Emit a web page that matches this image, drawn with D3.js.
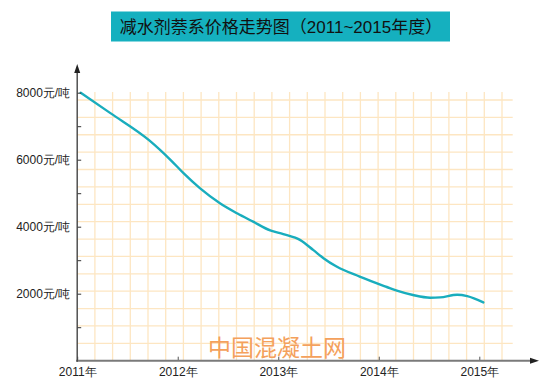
<!DOCTYPE html>
<html>
<head>
<meta charset="utf-8">
<script src="https://cdn.jsdelivr.net/npm/d3@7/dist/d3.min.js"></script>
<style>
  html, body { margin: 0; padding: 0; background: #fff; }
  svg { display: block; font-family: "Liberation Sans", Arial, "Noto Sans CJK SC", sans-serif; }
</style>
</head>
<body>
<svg id="chart" width="555" height="390"></svg>
<script>
// ---- data ----
const title = "减水剂萘系价格走势图（2011~2015年度）";
const watermark = "中国混凝土网";
const years = [2011.035, 2011.33, 2011.72, 2011.93, 2012.06, 2012.22, 2012.42, 2012.59, 2012.75, 2012.92, 2013.05, 2013.22, 2013.35, 2013.45, 2013.58, 2013.81, 2014.08, 2014.18, 2014.34, 2014.51, 2014.61, 2014.78, 2014.88, 2015.04];
const prices = [8000, 7390, 6570, 5990, 5590, 5150, 4700, 4400, 4150, 3890, 3780, 3600, 3300, 3060, 2810, 2510, 2200, 2090, 1960, 1880, 1890, 1970, 1930, 1740];
const xTicks = [2011, 2012, 2013, 2014, 2015];
const xTickLabels = ["2011年", "2012年", "2013年", "2014年", "2015年"];
const yTicks = [1000, 2000, 3000, 4000, 5000, 6000, 7000, 8000];
const yTickLabels = ["", "2000元/吨", "", "4000元/吨", "", "6000元/吨", "", "8000元/吨"];

const svg = d3.select("#chart");
const x0 = 77.2, yBase = 360.7;
const x = d3.scaleLinear().domain([2011, 2015]).range([x0, 479.3]);
const y = d3.scaleLinear().domain([0, 8000]).range([yBase, 92.7]);

// title box
svg.append("rect").attr("x", 111).attr("y", 11.5).attr("width", 339).attr("height", 30)
  .attr("fill", "#15b0bf");
svg.append("text").attr("x", 281).attr("y", 33).attr("text-anchor", "middle")
  .attr("font-size", 17).attr("fill", "#111").text(title);

// grid (graph paper)
const grid = svg.append("g").attr("stroke", "#fde6c2").attr("stroke-width", 1.3);
const gridRight = 512.7, gridTop = 92;
for (let k = 1; k <= 24; k++) {
  const gx = x0 + 17.7 * k;
  grid.append("line").attr("x1", gx).attr("x2", gx).attr("y1", gridTop).attr("y2", yBase);
}
for (let k = 1; k <= 15; k++) {
  const gy = yBase - 17.38 * k;
  grid.append("line").attr("x1", x0).attr("x2", gridRight).attr("y1", gy).attr("y2", gy);
}

// watermark
svg.append("text").attr("x", 208).attr("y", 356).attr("font-size", 23)
  .attr("fill", "#f4a15c").style("font-family", "'Noto Sans CJK SC', sans-serif")
  .text(watermark);

// line
const data = years.map((d, i) => [d, prices[i]]);
svg.append("path").datum(data)
  .attr("fill", "none").attr("stroke", "#19adbd").attr("stroke-width", 2.4)
  .attr("stroke-linecap", "round")
  .attr("d", d3.line().x(d => x(d[0])).y(d => y(d[1])).curve(d3.curveMonotoneX));

// y axis
const yAxis = svg.append("g").attr("transform", `translate(${x0},0)`)
  .call(d3.axisLeft(y).tickValues(yTicks).tickSizeInner(-4).tickSizeOuter(0).tickPadding(7)
    .tickFormat((d, i) => yTickLabels[i]));
yAxis.select(".domain").remove();
yAxis.selectAll(".tick line").attr("stroke", "#333");
yAxis.selectAll("text").attr("font-size", 12).attr("fill", "#222");

// x axis
const xAxis = svg.append("g").attr("transform", `translate(0,${yBase})`)
  .call(d3.axisBottom(x).tickValues(xTicks).tickSizeInner(-4).tickSizeOuter(0).tickPadding(7)
    .tickFormat((d, i) => xTickLabels[i]));
xAxis.select(".domain").remove();
xAxis.selectAll(".tick line").attr("stroke", "#555");
xAxis.selectAll("text").attr("font-size", 12).attr("fill", "#222");

// axis lines with arrows
svg.append("line").attr("x1", x0 - 1).attr("x2", 530).attr("y1", yBase).attr("y2", yBase)
  .attr("stroke", "#7a7a7a").attr("stroke-width", 2);
svg.append("path").attr("d", `M530,${yBase - 3} L539,${yBase} L530,${yBase + 3} Z`).attr("fill", "#222");
svg.append("line").attr("x1", x0).attr("x2", x0).attr("y1", yBase + 1).attr("y2", 72)
  .attr("stroke", "#444").attr("stroke-width", 1.4);
svg.append("path").attr("d", `M${x0 - 3},73 L${x0},64 L${x0 + 3},73 Z`).attr("fill", "#222");
</script>
</body>
</html>
